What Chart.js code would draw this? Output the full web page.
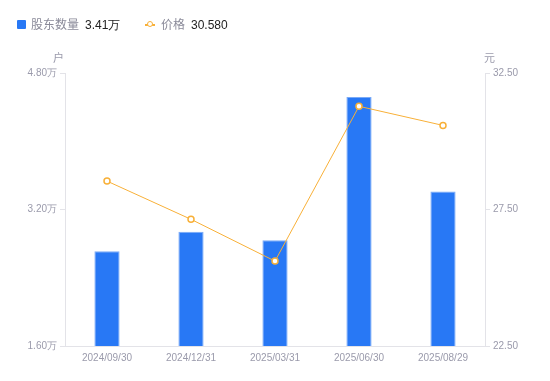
<!DOCTYPE html>
<html><head><meta charset="utf-8">
<script src="https://cdn.jsdelivr.net/npm/chart.js@4/dist/chart.umd.min.js"></script>
<style>
html,body{margin:0;padding:0;background:#fff;}
#wrap{position:relative;width:550px;height:381px;font-family:"Liberation Sans",Arial,sans-serif;}
canvas{position:absolute;left:0;top:0;}
.leg{position:absolute;top:16px;font-size:12px;line-height:16px;white-space:nowrap;}
.lab{color:#8a8a99;font-family:"Noto Sans CJK SC","Liberation Sans",sans-serif;}
.val{color:#222;margin-left:6px;}
.unit{position:absolute;font-size:11px;color:#9a9aab;font-family:"Noto Sans CJK SC",sans-serif;}
</style></head>
<body><div id="wrap">
<canvas id="c" width="550" height="381"></canvas>
<div class="leg" style="left:17px;"><span style="display:inline-block;width:9px;height:9px;background:#2878f5;border-radius:1px;vertical-align:-0px;margin-right:5px;"></span><span class="lab">股东数量</span><span class="val">3.41万</span></div>
<div class="leg" style="left:145px;"><span style="display:inline-block;position:relative;width:10px;height:9px;margin-right:6px;vertical-align:0px;"><span style="position:absolute;left:0;top:4px;width:10px;height:1.5px;background:#f8b038;"></span><span style="position:absolute;left:2px;top:1px;width:4px;height:4px;border:1.5px solid #f8b038;border-radius:50%;background:#fff;"></span></span><span class="lab">价格</span><span class="val">30.580</span></div>
<div class="unit" style="left:53px;top:49px;">户</div>
<div class="unit" style="left:484px;top:49px;">元</div>
</div>
<script>
const categories = ['2024/09/30','2024/12/31','2025/03/31','2025/06/30','2025/08/29'];
const holders = [2.71, 2.94, 2.84, 4.52, 3.41]; // 万户
const prices = [28.54, 27.14, 25.61, 31.28, 30.58]; // 元
const leftTicks = [1.6, 3.2, 4.8];
const rightTicks = [22.5, 27.5, 32.5];

const tickFont = {family: '"Liberation Sans", Arial, sans-serif', size: 10};
const tickColor = '#9a9aab';
const axisColor = '#e3e3e8';

new Chart(document.getElementById('c'), {
  data: {
    labels: categories,
    datasets: [
      {type: 'line', label: '价格', data: prices, yAxisID: 'yR', borderColor: '#f8b038', borderWidth: 1,
       pointRadius: 3, pointBorderWidth: 1.5, pointBackgroundColor: '#fff', pointBorderColor: '#f8b038',
       tension: 0, order: 0},
      {type: 'bar', label: '股东数量', data: holders, yAxisID: 'yL', backgroundColor: '#2878f5',
       borderColor: '#7aaaf7', borderWidth: {top:1,left:1,right:1,bottom:0}, borderSkipped: 'bottom',
       barPercentage: 0.3, categoryPercentage: 1, order: 1}
    ]
  },
  options: {
    responsive: false, animation: false,
    layout: {padding: {top: 73, left: 0, right: 0, bottom: 0}},
    plugins: {legend: {display: false}, tooltip: {enabled: false}},
    scales: {
      x: {
        grid: {display: false, drawTicks: false},
        border: {display: true, color: axisColor},
        ticks: {font: tickFont, color: tickColor, maxRotation: 0, padding: 6},
        afterFit: s => { s.height = 35; }
      },
      yL: {
        position: 'left', min: 1.6, max: 4.8,
        afterBuildTicks: s => { s.ticks = leftTicks.map(v => ({value: v})); },
        grid: {drawOnChartArea: false, drawTicks: true, tickLength: 5, color: axisColor},
        border: {display: true, color: axisColor},
        ticks: {font: tickFont, color: tickColor, padding: 3, callback: v => v.toFixed(2) + '万'},
        afterFit: s => { s.width = 65; }
      },
      yR: {
        position: 'right', min: 22.5, max: 32.5,
        afterBuildTicks: s => { s.ticks = rightTicks.map(v => ({value: v})); },
        grid: {drawOnChartArea: false, drawTicks: true, tickLength: 5, color: axisColor},
        border: {display: true, color: axisColor},
        ticks: {font: tickFont, color: tickColor, padding: 3, callback: v => v.toFixed(2)},
        afterFit: s => { s.width = 65; }
      }
    }
  }
});
</script>
</body></html>
